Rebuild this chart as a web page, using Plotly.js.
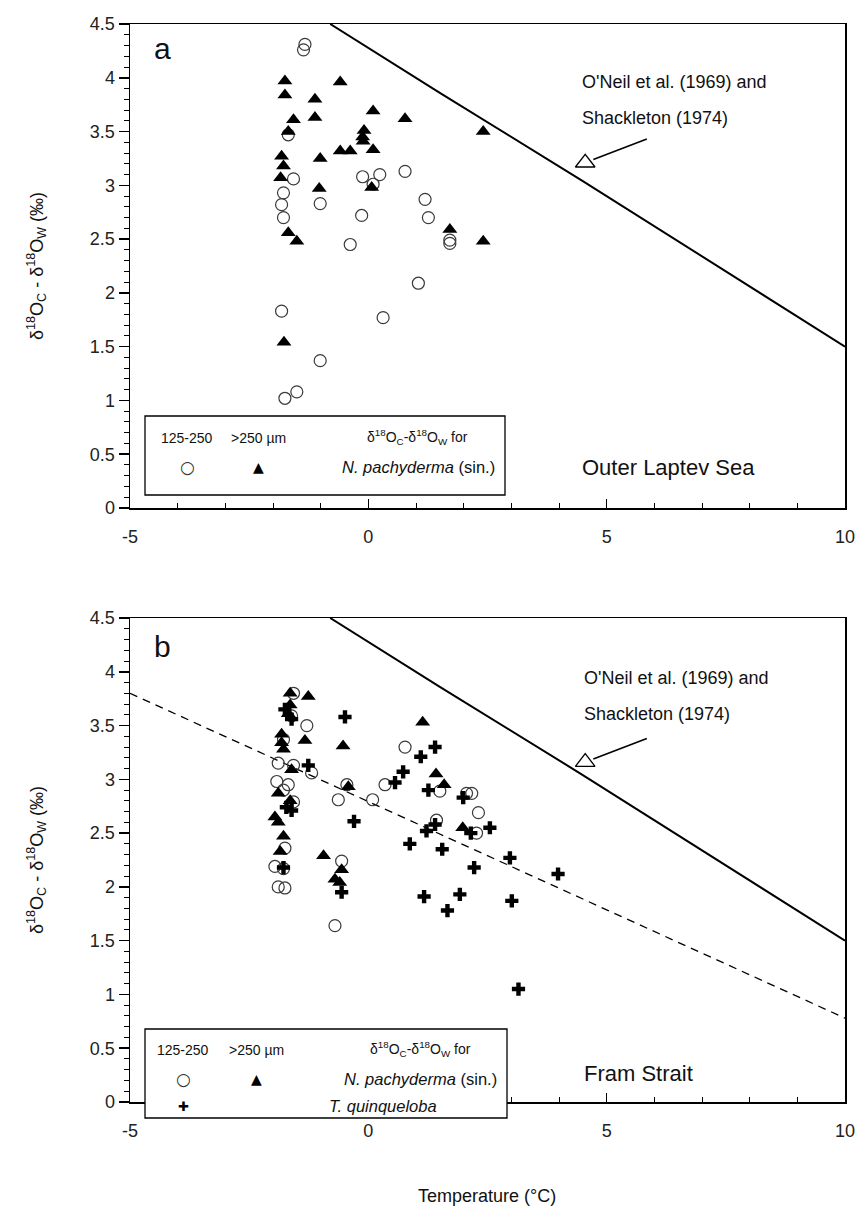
<!DOCTYPE html>
<html>
<head>
<meta charset="utf-8">
<script src="https://cdn.plot.ly/plotly-3.0.1.min.js"></script>
<style>html,body{margin:0;padding:0;background:#fff;}#chart{width:861px;height:1228px;}</style>
</head>
<body>
<div id="chart"></div>
<script>
// ---------- data ----------
// Panel a: Outer Laptev Sea, N. pachyderma (sin.)
const a_small_T = [-1.33,-1.36,-1.68,-1.57,-1.78,-1.82,-1.78,-1.01,-0.12,0.24,0.10,-0.14,-0.38,-1.82,0.31,-1.01,-1.75,-1.50,0.77,1.19,1.26,1.71,1.71,1.05];
const a_small_d = [4.31,4.26,3.47,3.06,2.93,2.82,2.70,2.83,3.08,3.10,3.01,2.72,2.45,1.83,1.77,1.37,1.02,1.08,3.13,2.87,2.70,2.49,2.46,2.09];
const a_large_T = [-1.75,-1.75,-0.59,-1.12,-1.12,0.10,-1.57,-1.68,-0.09,-0.12,-0.11,-0.59,-0.38,0.10,-1.82,-1.01,-1.78,-1.84,-1.03,0.07,-1.68,-1.50,-1.77,0.77,2.41,1.71,2.41];
const a_large_d = [3.97,3.84,3.96,3.80,3.63,3.69,3.61,3.50,3.51,3.45,3.41,3.32,3.32,3.33,3.27,3.25,3.18,3.07,2.97,2.98,2.56,2.48,1.54,3.62,3.50,2.59,2.48];

// Panel b: Fram Strait
const b_small_T = [-1.57,-1.29,-1.61,-1.78,-1.89,-1.57,-1.19,-1.92,-1.68,-1.78,-1.57,-1.75,-1.96,-1.78,-1.89,-1.75,0.77,-0.45,-0.63,0.35,0.09,1.50,2.06,2.17,2.31,2.27,1.43,-0.56,-0.70];
const b_small_d = [3.80,3.50,3.59,3.37,3.15,3.13,3.06,2.98,2.95,2.90,2.79,2.36,2.19,2.17,2.00,1.99,3.30,2.95,2.81,2.95,2.81,2.89,2.87,2.87,2.69,2.50,2.62,2.24,1.64];
const b_large_T = [-1.64,-1.26,-1.64,-1.68,-1.33,-1.82,-1.82,-1.78,-1.61,-1.89,-1.64,-1.96,-1.89,-1.78,-1.85,-0.94,1.14,-0.53,1.42,1.59,1.98,-0.56,-0.70,-0.60,-0.42];
const b_large_d = [3.80,3.77,3.69,3.61,3.36,3.42,3.34,3.28,3.09,2.87,2.80,2.65,2.60,2.47,2.33,2.29,3.53,3.31,3.05,2.95,2.55,2.16,2.07,2.04,2.93];
const b_quinq_T = [-1.75,-1.61,-1.26,-1.72,-1.61,-1.78,-0.49,1.40,1.10,0.73,0.56,1.26,1.99,2.55,2.15,1.22,1.40,-0.30,0.87,1.55,2.97,2.22,3.98,-0.56,1.17,1.92,3.01,1.66,3.15];
const b_quinq_d = [3.65,3.56,3.13,2.74,2.71,2.18,3.58,3.30,3.21,3.07,2.97,2.90,2.83,2.55,2.50,2.52,2.58,2.61,2.40,2.35,2.27,2.18,2.12,1.95,1.91,1.93,1.87,1.78,1.05];

// Reference lines
const oneil_T = [-0.8, 1.5, 4.5, 10];
const oneil_d = [4.5, 3.86, 3.04, 1.5];
const dashed_T = [-5, 10];
const dashed_d = [3.8, 0.78];

// Axes ticks
const x_tickvals = [-5, 0, 5, 10];
const x_ticktext = ['-5', '0', '5', '10'];
const y_tickvals = [0, 0.5, 1, 1.5, 2, 2.5, 3, 3.5, 4, 4.5];
const y_ticktext = ['0', '0.5', '1', '1.5', '2', '2.5', '3', '3.5', '4', '4.5'];

// ---------- layout helpers ----------
const W = 861, H = 1228;
const FONT = 'Liberation Sans, Arial, Helvetica, sans-serif';
const px = v => v / W;
const py = v => 1 - v / H;

const circleMarker = {symbol: 'circle-open', size: 12, color: '#3a3a3a', line: {width: 1.2, color: '#3a3a3a'}};
const triMarker = {symbol: 'triangle-up', size: 13, color: '#000'};
const crossMarker = {symbol: 'cross', size: 11, color: '#000'};

const traces = [
  // panel a
  {x: oneil_T, y: oneil_d, xaxis: 'x', yaxis: 'y', mode: 'lines', line: {color: '#000', width: 2}, hoverinfo: 'skip'},
  {x: a_small_T, y: a_small_d, xaxis: 'x', yaxis: 'y', mode: 'markers', marker: circleMarker, name: '125-250'},
  {x: a_large_T, y: a_large_d, xaxis: 'x', yaxis: 'y', mode: 'markers', marker: triMarker, name: '>250 µm'},
  {x: [4.55], y: [3.21], xaxis: 'x', yaxis: 'y', mode: 'markers', marker: {symbol: 'triangle-up-open', size: 17, color: '#000', line: {width: 1.3}}, hoverinfo: 'skip'},
  // panel b
  {x: oneil_T, y: oneil_d, xaxis: 'x2', yaxis: 'y2', mode: 'lines', line: {color: '#000', width: 2}, hoverinfo: 'skip'},
  {x: dashed_T, y: dashed_d, xaxis: 'x2', yaxis: 'y2', mode: 'lines', line: {color: '#000', width: 1.3, dash: '8px,6px'}, hoverinfo: 'skip'},
  {x: b_small_T, y: b_small_d, xaxis: 'x2', yaxis: 'y2', mode: 'markers', marker: circleMarker, name: '125-250'},
  {x: b_large_T, y: b_large_d, xaxis: 'x2', yaxis: 'y2', mode: 'markers', marker: triMarker, name: '>250 µm'},
  {x: b_quinq_T, y: b_quinq_d, xaxis: 'x2', yaxis: 'y2', mode: 'markers', marker: crossMarker, name: 'T. quinqueloba'},
  {x: [4.55], y: [3.16], xaxis: 'x2', yaxis: 'y2', mode: 'markers', marker: {symbol: 'triangle-up-open', size: 17, color: '#000', line: {width: 1.3}}, hoverinfo: 'skip'}
];

function xAxis(dom, anchor) {
  return {
    domain: dom, anchor: anchor, range: [-5, 10],
    tickmode: 'array', tickvals: x_tickvals, ticktext: x_ticktext,
    ticks: 'inside', ticklen: 9, tickwidth: 1.5, tickcolor: '#000', ticklabelstandoff: 12,
    minor: {dtick: 1, tick0: -5, ticks: 'inside', ticklen: 5, tickwidth: 1, tickcolor: '#000'},
    showline: true, linecolor: '#000', linewidth: 1.5, mirror: true,
    showgrid: false, zeroline: false,
    tickfont: {family: FONT, size: 18, color: '#222'}
  };
}
function yAxis(dom, anchor) {
  return {
    domain: dom, anchor: anchor, range: [0, 4.5],
    tickmode: 'array', tickvals: y_tickvals, ticktext: y_ticktext,
    ticks: 'outside', ticklen: 10, tickwidth: 1.5, tickcolor: '#000',
    minor: {dtick: 0.1, tick0: 0, ticks: 'outside', ticklen: 5, tickwidth: 1, tickcolor: '#000'},
    showline: true, linecolor: '#000', linewidth: 1.5, mirror: true,
    showgrid: false, zeroline: false,
    tickfont: {family: FONT, size: 18, color: '#222'}
  };
}

const ytitle = 'δ<sup>18</sup>O<sub>C</sub> - δ<sup>18</sup>O<sub>W</sub> (‰)';
const legTitle = 'δ<sup>18</sup>O<sub>C</sub>-δ<sup>18</sup>O<sub>W</sub> for';
const pach = '<i>N. pachyderma</i> (sin.)';

function ann(text, x, y, size, opts) {
  return Object.assign({text: text, x: px(x), y: py(y), xref: 'paper', yref: 'paper', showarrow: false,
    font: {family: FONT, size: size, color: '#111'}, xanchor: 'center', yanchor: 'middle'}, opts || {});
}

const annotations = [
  ann('a', 162, 48, 30),
  ann('b', 162, 646, 30),
  ann(ytitle, 36, 266, 18, {textangle: -90}),
  ann(ytitle, 36, 860, 18, {textangle: -90}),
  ann('Temperature (°C)', 487, 1196, 18),
  ann("O'Neil et al. (1969) and", 580, 82, 18, {xanchor: 'left'}),
  ann('Shackleton (1974)', 580, 118, 18, {xanchor: 'left'}),
  ann("O'Neil et al. (1969) and", 582, 678, 18, {xanchor: 'left'}),
  ann('Shackleton (1974)', 582, 714, 18, {xanchor: 'left'}),
  ann('Outer Laptev Sea', 668, 468, 22),
  ann('Fram Strait', 638, 1073, 22),
  // legend a
  ann('125-250', 187, 438, 14),
  ann('>250 µm', 258, 438, 14),
  ann(legTitle, 417, 437, 14),
  ann('○', 187, 467, 17, {font: {family: 'DejaVu Sans', size: 17, color: '#333'}}),
  ann('▲', 258, 467, 14, {font: {family: 'DejaVu Sans', size: 14, color: '#000'}}),
  ann(pach, 497, 467, 16.5, {xanchor: 'right'}),
  // legend b
  ann('125-250', 183, 1050, 14),
  ann('>250 µm', 256, 1050, 14),
  ann(legTitle, 420, 1049, 14),
  ann('○', 183, 1079, 17, {font: {family: 'DejaVu Sans', size: 17, color: '#333'}}),
  ann('▲', 256, 1079, 14, {font: {family: 'DejaVu Sans', size: 14, color: '#000'}}),
  ann(pach, 499, 1079, 16.5, {xanchor: 'right'}),
  ann('✚', 183, 1106, 13, {font: {family: 'DejaVu Sans', size: 13, color: '#000'}}),
  ann('<i>T. quinqueloba</i>', 327, 1106, 16.5, {xanchor: 'left'}),
  // arrows to the open triangles
  {x: 4.72, y: 3.24, xref: 'x', yref: 'y', ax: 55, ay: -21, showarrow: true, arrowhead: 0, arrowwidth: 1.6, arrowcolor: '#000', text: '', standoff: 0, startstandoff: 0},
  {x: 4.72, y: 3.19, xref: 'x2', yref: 'y2', ax: 55, ay: -21, showarrow: true, arrowhead: 0, arrowwidth: 1.6, arrowcolor: '#000', text: '', standoff: 0, startstandoff: 0}
];

const shapes = [
  {type: 'rect', xref: 'paper', yref: 'paper', x0: px(145), x1: px(505), y0: py(495), y1: py(416), line: {color: '#000', width: 1.3}, fillcolor: '#fff', layer: 'above'},
  {type: 'rect', xref: 'paper', yref: 'paper', x0: px(145), x1: px(507), y0: py(1118), y1: py(1029), line: {color: '#000', width: 1.3}, fillcolor: '#fff', layer: 'above'}
];

const layout = {
  width: W, height: H,
  margin: {l: 0, r: 0, t: 0, b: 0},
  paper_bgcolor: '#fff', plot_bgcolor: '#fff',
  showlegend: false,
  font: {family: FONT, color: '#111'},
  xaxis: xAxis([130 / W, 845 / W], 'y'),
  yaxis: yAxis([1 - 508 / H, 1 - 24 / H], 'x'),
  xaxis2: xAxis([130 / W, 845 / W], 'y2'),
  yaxis2: yAxis([1 - 1102 / H, 1 - 618 / H], 'x2'),
  annotations: annotations,
  shapes: shapes
};

Plotly.newPlot('chart', traces, layout, {displayModeBar: false, staticPlot: true});
</script>
</body>
</html>
